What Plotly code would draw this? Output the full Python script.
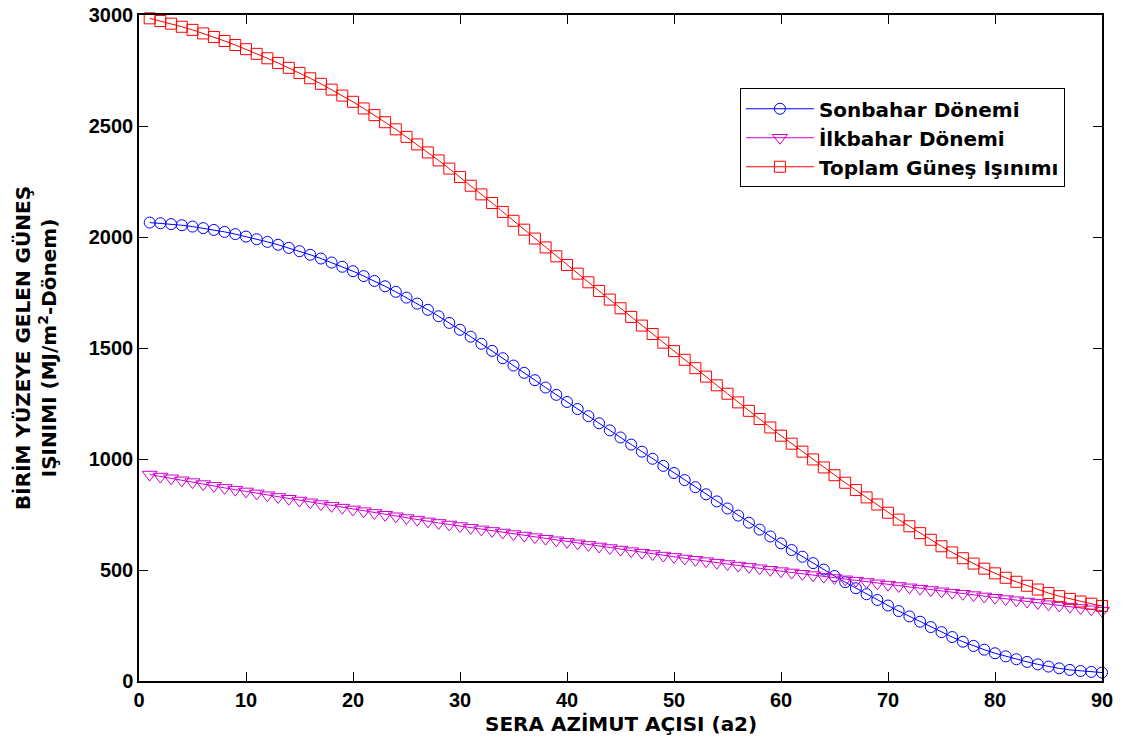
import plotly.graph_objects as go

# Sera azimut açısı (derece)
azimut = list(range(1, 91))

# Sonbahar dönemi ışınımı (MJ/m2-dönem)
sonbahar = [
    2065, 2062, 2058, 2053, 2047, 2040, 2032, 2023, 2013, 2002,
    1990, 1978, 1965, 1951, 1936, 1920, 1903, 1885, 1866, 1846,
    1824, 1802, 1778, 1753, 1727, 1700, 1672, 1643, 1613, 1582,
    1551, 1519, 1487, 1454, 1421, 1388, 1355, 1322, 1289, 1257,
    1225, 1193, 1161, 1129, 1097, 1065, 1033, 1001, 969, 937,
    905, 873, 841, 809, 777, 745, 713, 682, 651, 620,
    590, 560, 531, 502, 473, 445, 418, 391, 365, 340,
    315, 291, 267, 243, 220, 198, 177, 158, 141, 125,
    111, 98, 86, 75, 65, 57, 50, 45, 41, 38,
]

# İlkbahar dönemi ışınımı (MJ/m2-dönem)
ilkbahar = [
    930, 921, 913, 904, 896, 887, 879, 870, 862, 854,
    845, 837, 829, 821, 813, 805, 797, 789, 781, 773,
    765, 757, 749, 742, 734, 727, 719, 712, 705, 698,
    690, 683, 676, 669, 662, 655, 648, 641, 634, 627,
    620, 613, 606, 599, 592, 585, 578, 572, 565, 559,
    552, 546, 540, 533, 527, 520, 514, 508, 501, 495,
    489, 483, 477, 470, 464, 458, 452, 446, 440, 434,
    428, 422, 416, 410, 404, 398, 393, 387, 381, 375,
    369, 364, 358, 352, 346, 340, 335, 329, 323, 317,
]

# Toplam güneş ışınımı (MJ/m2-dönem)
toplam = [
    2985, 2973, 2961, 2947, 2933, 2917, 2901, 2883, 2865, 2846,
    2825, 2805, 2784, 2762, 2739, 2715, 2690, 2664, 2637, 2609,
    2579, 2549, 2517, 2485, 2451, 2417, 2381, 2345, 2308, 2270,
    2231, 2192, 2153, 2113, 2073, 2033, 1993, 1953, 1913, 1874,
    1835, 1796, 1757, 1718, 1679, 1640, 1601, 1563, 1524, 1486,
    1447, 1409, 1371, 1332, 1294, 1255, 1217, 1180, 1142, 1105,
    1069, 1033, 998, 962, 927, 893, 860, 827, 795, 758,
    727, 697, 666, 636, 607, 579, 553, 529, 506, 485,
    465, 447, 429, 412, 396, 382, 370, 358, 348, 338,
]

x_ticks = [0, 10, 20, 30, 40, 50, 60, 70, 80, 90]
y_ticks = [0, 500, 1000, 1500, 2000, 2500, 3000]

TICK_FONT = "Liberation Sans, Arial, sans-serif"
TEXT_FONT = "DejaVu Sans, Verdana, sans-serif"

series = [
    ("Sonbahar Dönemi", sonbahar, "#0000FF", "circle-open", 11),
    ("İlkbahar Dönemi", ilkbahar, "#CC00CC", "triangle-down-open", 13),
    ("Toplam Güneş Işınımı", toplam, "#FF0000", "square-open", 11),
]

fig = go.Figure()
for name, values, color, symbol, size in series:
    fig.add_trace(go.Scatter(
        x=azimut, y=values, name=name, mode="lines+markers",
        line=dict(color=color, width=1),
        marker=dict(symbol=symbol, size=size, color=color,
                    line=dict(color=color, width=1)),
        cliponaxis=False,
    ))

axis_common = dict(
    showgrid=False, zeroline=False, showline=True, linecolor="black",
    linewidth=1.5, mirror="ticks", ticks="inside", ticklen=9,
    tickcolor="black", tickwidth=1, automargin=False,
    tickfont=dict(family=TICK_FONT, size=20, color="black", weight="bold"),
)

fig.update_xaxes(range=[0, 90], tickvals=x_ticks,
                 ticktext=[str(v) for v in x_ticks], **axis_common)
fig.update_yaxes(range=[0, 3000], tickvals=y_ticks,
                 ticktext=[str(v) for v in y_ticks], **axis_common)

fig.add_annotation(
    text="<b>SERA AZİMUT AÇISI (a2)</b>",
    xref="paper", yref="paper", x=0.5, y=-0.064,
    xanchor="center", yanchor="middle", showarrow=False,
    font=dict(family=TEXT_FONT, size=20, color="black"),
)
fig.add_annotation(
    text="<b>BİRİM YÜZEYE GELEN GÜNEŞ<br>IŞINIMI (MJ/m<sup>2</sup>-Dönem)</b>",
    xref="paper", yref="paper", x=-0.107, y=0.5,
    xanchor="center", yanchor="middle", showarrow=False, textangle=-90,
    font=dict(family=TEXT_FONT, size=20, color="black"),
)

fig.update_layout(
    width=1121, height=742,
    margin=dict(l=139, r=19, t=15, b=61),
    paper_bgcolor="white", plot_bgcolor="white",
    legend=dict(
        x=0.624, y=0.890, xanchor="left", yanchor="top",
        bgcolor="white", bordercolor="black", borderwidth=1,
        font=dict(family=TEXT_FONT, size=20, color="black", weight="bold"),
        itemwidth=68, tracegroupgap=0,
    ),
)

fig.write_html("out.html")
